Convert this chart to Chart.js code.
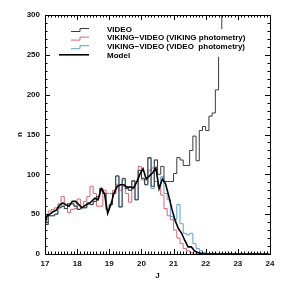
<!DOCTYPE html>
<html>
<head>
<meta charset="utf-8">
<script src="https://cdn.jsdelivr.net/npm/chart.js@4/dist/chart.umd.min.js"></script>
<style>
html, body { margin: 0; padding: 0; background: #fff; }
#wrap { width: 284px; height: 284px; }
</style>
</head>
<body>
<div id="wrap"><canvas id="histChart"></canvas></div>
<script>
// histogram bins in J, 0.1 mag wide
const binStart = 17.0;
const binWidth = 0.1;

const videoCounts = [
    37, 48, 48, 50, 58, 60, 57, 63, 63, 60,
    56, 58, 58, 64, 62, 66, 72, 82, 76, 56,
    62, 76, 98, 59, 95, 82, 80, 92, 68, 105,
    95, 87, 121, 85, 118, 100, 110, 91, 91, 91,
    101, 121, 118, 111, 111, 130, 148, 117, 155, 160,
    155, 173, 177, 206, 270, 340
];
const vikingPhotCounts = [
    49, 54, 56, 58, 63, 72, 61, 52, 56, 57,
    69, 59, 66, 72, 85, 76, 60, 60, 80, 76,
    76, 80, 87, 80, 85, 76, 65, 82, 91, 110,
    93, 93, 105, 108, 91, 85, 74, 57, 48, 43,
    30, 20, 13, 7, 4, 2, 0, 0, 0, 0,
    0, 0, 0, 0, 0, 0, 0, 0, 0, 0,
    0, 0, 0, 0, 0, 0, 0, 0, 0, 0
];
const videoPhotCounts = [
    37, 48, 48, 50, 58, 60, 57, 63, 63, 60,
    56, 58, 58, 64, 62, 66, 72, 82, 76, 56,
    62, 76, 98, 59, 93, 82, 80, 91, 68, 105,
    95, 87, 120, 82, 118, 85, 97, 76, 68, 47,
    43, 62, 38, 26, 24, 26, 13, 7, 4, 2,
    0, 0, 0, 0, 0, 0, 0, 0, 0, 0,
    0, 0, 0, 0, 0, 0, 0, 0, 0, 0
];
// model at bin centres, plus its value at the left edge
const modelStart = 36;
const modelCounts = [
    47, 50, 53, 55, 61, 64, 62, 60, 66, 66,
    62, 58, 61, 63, 66, 70, 68, 82, 76, 51,
    62, 77, 85, 87, 87, 84, 84, 83, 90, 100,
    107, 94, 98, 102, 108, 82, 94, 88, 73, 56,
    42, 32, 26, 17, 9, 9, 4, 2, 1, 0,
    0, 0, 0, 0, 0, 0, 0, 0, 0, 0,
    0, 0, 0, 0, 0, 0, 0, 0, 0, 0
];

const xTicks = [17, 18, 19, 20, 21, 22, 23, 24];
const yTicks = [0, 50, 100, 150, 200, 250, 300];
const seriesNames = ['VIDEO', 'VIKING\u2212VIDEO (VIKING photometry)', 'VIKING\u2212VIDEO (VIDEO  photometry)', 'Model'];

const RED = '#e3636d';
const BLUE = '#5b9fd6';
const GREY = '#3c3c3c';

function stepData(counts) {
    const pts = counts.map((n, i) => ({ x: binStart + i * binWidth, y: n }));
    pts.push({ x: binStart + counts.length * binWidth, y: counts[counts.length - 1] });
    return pts;
}

const modelData = [{ x: binStart, y: modelStart }].concat(
    modelCounts.map((n, i) => ({ x: binStart + (i + 0.5) * binWidth, y: n }))
);

const fontBold = { family: 'Liberation Sans', size: 8, weight: 'bold' };

// frame with inward ticks on all four sides, like IDL
const framePlugin = {
    id: 'frame',
    afterDraw(chart) {
        const { ctx, chartArea: a, scales } = chart;
        const xs = scales.x, ys = scales.y;
        ctx.save();
        ctx.strokeStyle = '#000';
        ctx.lineWidth = 1;
        ctx.strokeRect(Math.round(a.left) + 0.5, Math.round(a.top) + 0.5,
            Math.round(a.right - a.left), Math.round(a.bottom - a.top));
        ctx.beginPath();
        for (let k = 0; k <= 70; k++) {
            const v = 17 + k * 0.1;
            const px = Math.round(xs.getPixelForValue(v)) + 0.5;
            const len = k % 10 === 0 ? 5 : 2.5;
            ctx.moveTo(px, a.bottom); ctx.lineTo(px, a.bottom - len);
            ctx.moveTo(px, a.top); ctx.lineTo(px, a.top + len);
        }
        for (let k = 0; k <= 30; k++) {
            const v = k * 10;
            const py = Math.round(ys.getPixelForValue(v)) + 0.5;
            const len = k % 5 === 0 ? 5 : 2.5;
            ctx.moveTo(a.left, py); ctx.lineTo(a.left + len, py);
            ctx.moveTo(a.right, py); ctx.lineTo(a.right - len, py);
        }
        ctx.stroke();
        ctx.restore();
    }
};

// legend box drawn inside the plot, over the lines
const legendPlugin = {
    id: 'boxLegend',
    afterDatasetsDraw(chart) {
        const { ctx, chartArea: a } = chart;
        const x0 = a.left + 26, y0 = a.top + 14;
        const rowH = 8.6;
        ctx.save();
        ctx.fillStyle = '#fff';
        ctx.fillRect(x0 - 2, y0, 200, rowH * 3 + 2);
        const colors = [GREY, RED, BLUE];
        colors.forEach((c, i) => {
            const y = y0 + i * rowH + 0.5;
            ctx.strokeStyle = c;
            ctx.lineWidth = 1;
            ctx.beginPath();
            ctx.moveTo(x0, y + 2);
            ctx.lineTo(x0 + 9, y + 2);
            ctx.lineTo(x0 + 9, y - 1);
            ctx.lineTo(x0 + 18, y - 1);
            ctx.stroke();
        });
        const ym = y0 + 3 * rowH;
        ctx.strokeStyle = '#000';
        ctx.lineWidth = 1.6;
        ctx.beginPath();
        ctx.moveTo(x0 - 12, ym);
        ctx.lineTo(x0 + 18, ym);
        ctx.stroke();
        ctx.fillStyle = '#000';
        ctx.font = 'bold 8px "Liberation Sans"';
        ctx.textBaseline = 'middle';
        seriesNames.forEach((t, i) => ctx.fillText(t, x0 + 36, y0 + i * rowH + 0.5));
        ctx.restore();
    }
};

new Chart(document.getElementById('histChart'), {
    type: 'line',
    data: {
        datasets: [
            { label: seriesNames[1], data: stepData(vikingPhotCounts), borderColor: RED, borderWidth: 1, stepped: 'before', pointRadius: 0, fill: false, order: 4 },
            { label: seriesNames[2], data: stepData(videoPhotCounts), borderColor: BLUE, borderWidth: 1, stepped: 'before', pointRadius: 0, fill: false, order: 3 },
            { label: seriesNames[0], data: stepData(videoCounts), borderColor: GREY, borderWidth: 1, stepped: 'before', pointRadius: 0, fill: false, order: 2 },
            { label: seriesNames[3], data: modelData, borderColor: '#000', borderWidth: 1.6, tension: 0, pointRadius: 0, fill: false, order: 1 }
        ]
    },
    options: {
        responsive: true,
        maintainAspectRatio: false,
        animation: false,
        layout: { padding: { top: 15, right: 14, left: 0, bottom: 0 } },
        plugins: {
            legend: { display: false },
            tooltip: { enabled: false }
        },
        scales: {
            x: {
                type: 'linear',
                min: 17, max: 24,
                grid: { display: false, drawTicks: false },
                border: { display: false },
                afterBuildTicks: s => { s.ticks = xTicks.map(v => ({ value: v })); },
                ticks: { color: '#111', font: fontBold, padding: 5, maxRotation: 0 },
                title: { display: true, text: 'J', color: '#111', font: fontBold, padding: { top: 0, bottom: 3 } },
                afterFit: s => { s.height = 30; }
            },
            y: {
                min: 0, max: 300,
                grid: { display: false, drawTicks: false },
                border: { display: false },
                afterBuildTicks: s => { s.ticks = yTicks.map(v => ({ value: v })); },
                ticks: { color: '#111', font: fontBold, padding: 5 },
                title: { display: true, text: 'n', color: '#111', font: fontBold, padding: { top: 15, bottom: 0 } },
                afterFit: s => { s.width = 45; }
            }
        }
    },
    plugins: [legendPlugin, framePlugin]
});
</script>
</body>
</html>
